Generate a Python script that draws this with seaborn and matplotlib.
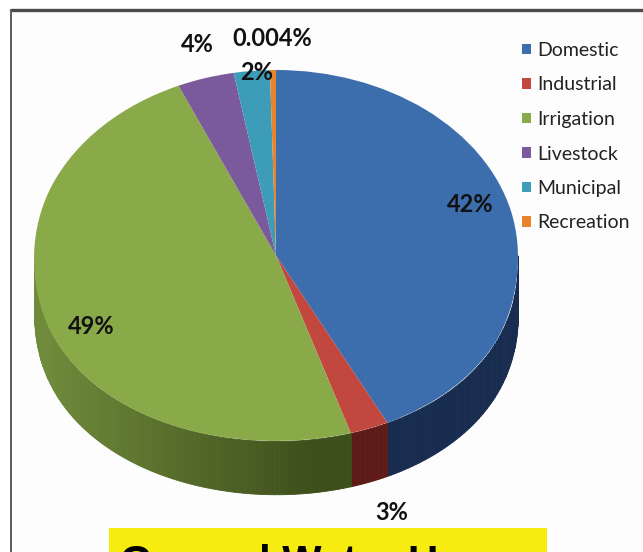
import numpy as np
import matplotlib
matplotlib.use("Agg")
import matplotlib.pyplot as plt
from matplotlib.patches import Rectangle
from matplotlib.lines import Line2D
from matplotlib.path import Path
from matplotlib.transforms import Transform
import seaborn as sns

categories = ["Domestic", "Industrial", "Irrigation", "Livestock", "Municipal", "Recreation"]
shares = [42.4, 2.6, 48.4, 3.8, 2.4, 0.4]
value_labels = ["42%", "3%", "49%", "4%", "2%", "0.004%"]
top_colors = ["#3c6eae", "#c2473f", "#8aaa4a", "#7a5a9c", "#3d9db9", "#e8842c"]
side_light = ["#1c3a68", "#6e1f1b", "#6f8a3a", "#4a3565", "#21606f", "#8c4f1a"]
side_dark = ["#182c50", "#5e1a16", "#3d4f1b", "#3a2850", "#1a4a56", "#6f3f15"]

W, H = 643, 552
sns.set_theme(style="white")
plt.rcParams["font.family"] = ["Lato", "DejaVu Sans"]
fig = plt.figure(figsize=(W / 100, H / 100), dpi=100, facecolor="white")


def figbox(x0, y0, x1, y1):
    return [x0 / W, 1 - y1 / H, (x1 - x0) / W, (y1 - y0) / H]


# slide frame
fig.add_artist(Rectangle((11 / W, 0), 1, 1 - 10 / H, transform=fig.transFigure,
                         facecolor="#fdfdfd", edgecolor="none", zorder=-2))
fig.add_artist(Line2D([10.5 / W, 1], [1 - 10 / H, 1 - 10 / H], color="#4a4a4a", lw=2.4, zorder=-1))
fig.add_artist(Line2D([11 / W, 11 / W], [0, 1 - 10 / H], color="#5a5a5a", lw=1.4, zorder=-1))

# pie: unit circle of this axes maps on the perspective ellipse
ax = fig.add_axes(figbox(34, 70, 518, 441))
ax.set_facecolor("none")
depth = 0.287
edges = np.concatenate([[0], np.cumsum(shares)]) / np.sum(shares) * 2 * np.pi


def mix(a, b, t):
    a, b = np.array(matplotlib.colors.to_rgb(a)), np.array(matplotlib.colors.to_rgb(b))
    return tuple(a + (b - a) * t)


def sag(y):
    """The near half of the disc bulges towards the viewer."""
    y = np.asarray(y, dtype=float)
    return np.where(y < 0, -np.abs(y) ** 0.88, y)


class Perspective(Transform):
    input_dims = output_dims = 2
    is_separable = False
    has_inverse = False

    def transform_non_affine(self, values):
        values = np.array(values, dtype=float)
        values[:, 1] = sag(values[:, 1])
        return values

    def transform_path_non_affine(self, path):
        return Path(self.transform_non_affine(path.vertices), path.codes)


for i in range(len(shares)):
    lo, hi = max(edges[i], np.pi / 2), min(edges[i + 1], 3 * np.pi / 2)
    if hi <= lo:
        continue
    grid = np.linspace(lo, hi, max(2, int((hi - lo) * 60)))
    for a, b in zip(grid[:-1], grid[1:]):
        angles = np.linspace(a, b, 4)
        xs = np.sin(angles)
        ys = sag(np.cos(angles))
        order = np.argsort(xs)
        # left side is lit, bottom right is dark
        t = np.clip((np.sin(a) + 0.95) / 1.1, 0, 1)
        ax.fill_between(xs[order], ys[order], ys[order] - depth,
                        color=mix(side_light[i], side_dark[i], t), lw=0.6, clip_on=False)

wedges, _ = ax.pie(shares, colors=top_colors, startangle=90, counterclock=False,
                   radius=1, wedgeprops=dict(linewidth=0), frame=False)
warp = Perspective() + ax.transData
for w in wedges:
    w.set_transform(warp)
    w.set_clip_on(False)
ax.set_aspect("auto")
ax.set_xlim(-1, 1)
ax.set_ylim(-1, 1)
ax.axis("off")

# value labels placed in figure pixels
label_pos = [(470, 205), (392, 513), (91, 326), (197, 45), (257, 72), (272, 38)]
for txt, (x, y) in zip(value_labels, label_pos):
    fig.text(x / W, 1 - y / H, txt, ha="center", va="center", fontsize=17,
             fontweight="bold", color="#111111", zorder=5)

leg = fig.legend(wedges, categories, loc="upper left",
                 bbox_to_anchor=(522 / W, 1 - 42 / H), frameon=False,
                 fontsize=14, labelspacing=0.9, handlelength=0.46, handleheight=0.46,
                 handletextpad=0.3, borderpad=0, borderaxespad=0, labelcolor="#222222")

# caption strip, cut off by the bottom of the slide
fig.add_artist(Rectangle((109 / W, 0), 438 / W, 24 / H, transform=fig.transFigure,
                         facecolor="#f7ec10", edgecolor="none", zorder=-1))
fig.text(120 / W, 1 - 575 / H, "Ground Water Use", ha="left", va="baseline", fontsize=30,
         fontweight="bold", family=["Liberation Sans"], color="black")

fig.savefig("out.png", dpi=100)
